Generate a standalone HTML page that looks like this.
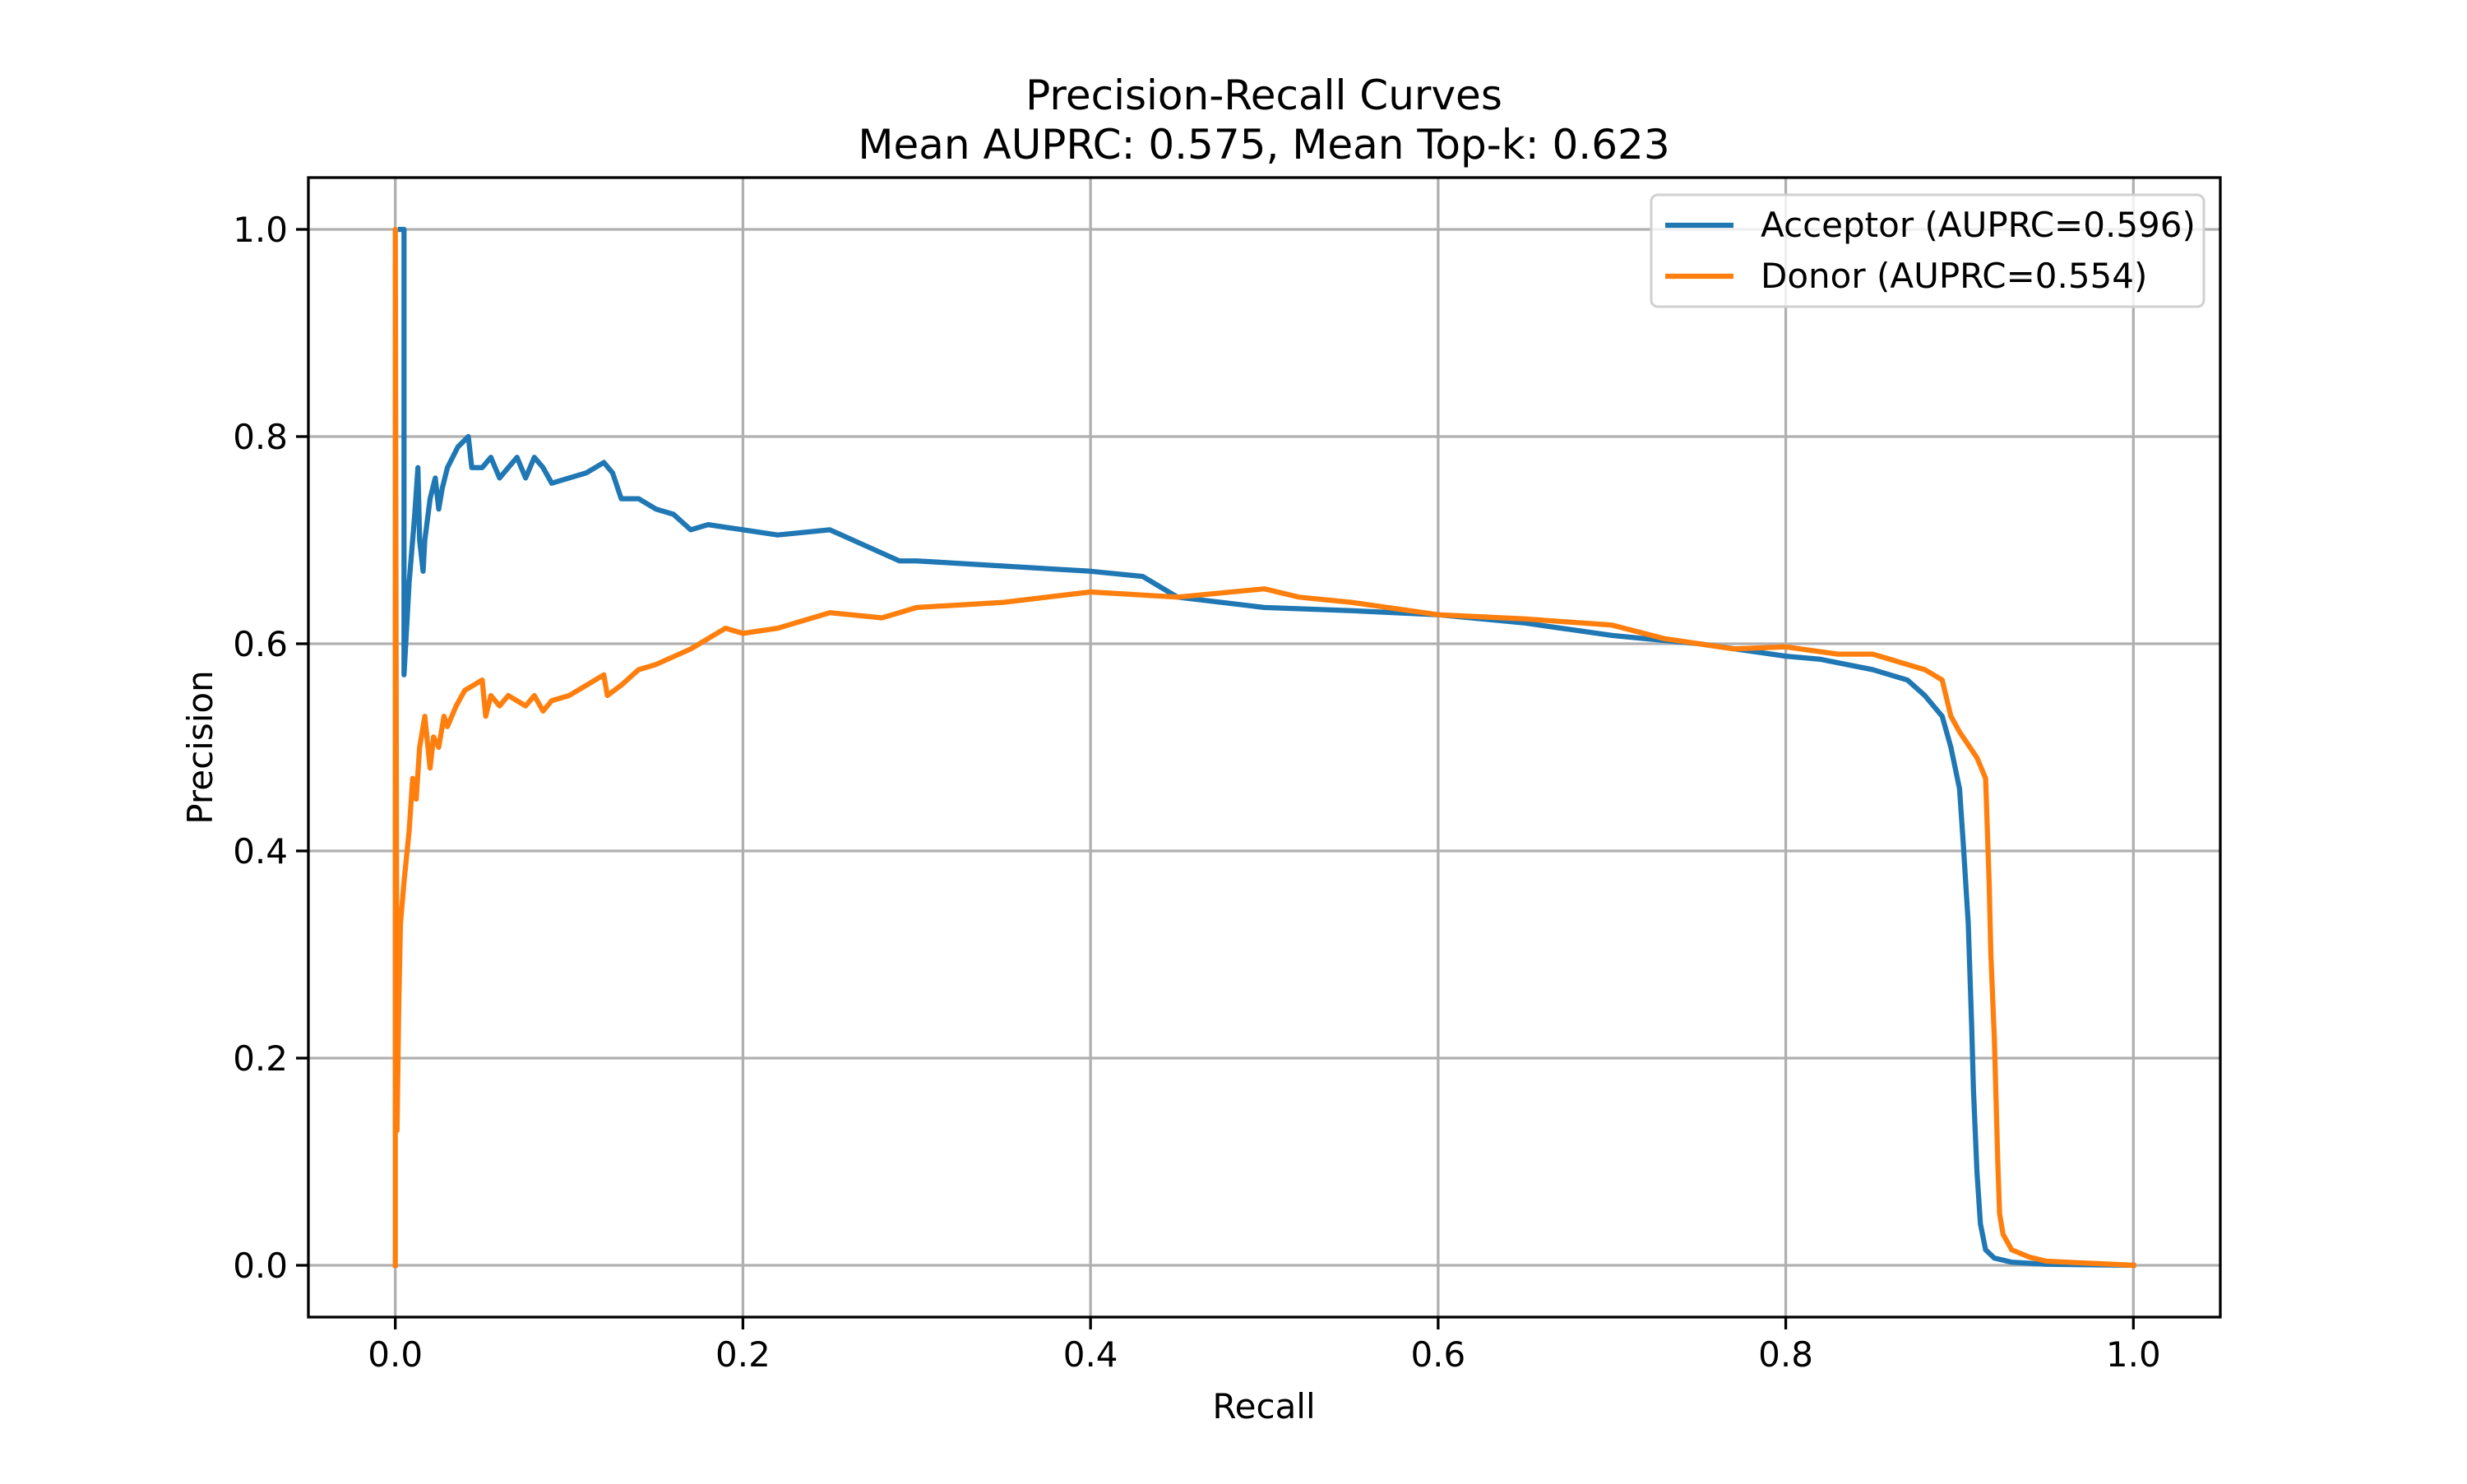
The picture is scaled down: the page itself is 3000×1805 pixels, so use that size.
<!DOCTYPE html>
<html><head><meta charset="utf-8"><style>
html,body{margin:0;padding:0;background:#fff;}
svg text{font-family:"DejaVu Sans","Liberation Sans",sans-serif;fill:#000;}
</style></head><body>
<svg id="chart" width="3000" height="1800" viewBox="0 0 3000 1800" xmlns="http://www.w3.org/2000/svg">
<rect width="3000" height="1800" fill="#fff"/>
<text x="1537" y="133" font-size="50" text-anchor="middle">Precision-Recall Curves</text>
<text x="1537" y="193" font-size="50" text-anchor="middle">Mean AUPRC: 0.575, Mean Top-k: 0.623</text>
<g id="grid"></g>
<g id="series"></g>
<rect x="375" y="216" width="2325" height="1386" fill="none" stroke="#000" stroke-width="3.3"/>
<g id="ticks"></g>
<text x="1537" y="1725" font-size="42" text-anchor="middle">Recall</text>
<text x="258" y="909" font-size="42" text-anchor="middle" transform="rotate(-90 258 909)">Precision</text>
<g>
<rect x="2008" y="237" width="672" height="136" rx="8" fill="#fff" fill-opacity="0.8" stroke="#d0d0d0" stroke-width="3"/>
<g>
<line x1="2025" y1="274" x2="2108" y2="274" stroke="#1f77b4" stroke-width="6.25"/>
<text x="2141" y="288" font-size="42">Acceptor (AUPRC=0.596)</text>
</g>
<g>
<line x1="2025" y1="336" x2="2108" y2="336" stroke="#ff7f0e" stroke-width="6.25"/>
<text x="2141" y="350" font-size="42">Donor (AUPRC=0.554)</text>
</g>
</g>
</svg>
<script>
const xTicks=[0,0.2,0.4,0.6,0.8,1.0];
const yTicks=[0,0.2,0.4,0.6,0.8,1.0];
const xTickLabels=["0.0","0.2","0.4","0.6","0.8","1.0"];
const yTickLabels=["0.0","0.2","0.4","0.6","0.8","1.0"];
const acceptorRecall=[0.003,0.005,0.005,0.008,0.011,0.013,0.014,0.016,0.017,0.02,0.023,0.025,0.027,0.03,0.036,0.042,0.044,0.05,0.055,0.06,0.065,0.07,0.075,0.08,0.085,0.09,0.1,0.11,0.12,0.125,0.13,0.14,0.15,0.16,0.17,0.18,0.2,0.22,0.25,0.27,0.29,0.3,0.35,0.4,0.43,0.45,0.5,0.55,0.6,0.65,0.7,0.75,0.8,0.82,0.85,0.87,0.88,0.89,0.895,0.9,0.902,0.905,0.907,0.908,0.91,0.912,0.915,0.92,0.93,0.95,1.0];
const acceptorPrecision=[1.0,1.0,0.57,0.66,0.72,0.77,0.7,0.67,0.7,0.74,0.76,0.73,0.75,0.77,0.79,0.80,0.77,0.77,0.78,0.76,0.77,0.78,0.76,0.78,0.77,0.755,0.76,0.765,0.775,0.765,0.74,0.74,0.73,0.725,0.71,0.715,0.71,0.705,0.71,0.695,0.68,0.68,0.675,0.67,0.665,0.645,0.635,0.632,0.628,0.62,0.608,0.6,0.588,0.585,0.575,0.565,0.55,0.53,0.5,0.46,0.41,0.33,0.23,0.17,0.09,0.04,0.015,0.007,0.003,0.001,0.0];
const donorRecall=[0.0,0.0,0.001,0.002,0.003,0.005,0.008,0.01,0.012,0.014,0.017,0.02,0.022,0.025,0.028,0.03,0.035,0.04,0.045,0.05,0.052,0.055,0.06,0.065,0.07,0.075,0.08,0.085,0.09,0.1,0.11,0.12,0.122,0.13,0.14,0.15,0.17,0.19,0.2,0.22,0.25,0.28,0.3,0.35,0.4,0.45,0.5,0.52,0.55,0.6,0.65,0.7,0.73,0.77,0.8,0.83,0.85,0.87,0.88,0.89,0.895,0.9,0.91,0.915,0.917,0.918,0.92,0.922,0.923,0.925,0.93,0.94,0.95,1.0];
const donorPrecision=[0.0,1.0,0.13,0.25,0.33,0.37,0.42,0.47,0.45,0.5,0.53,0.48,0.51,0.5,0.53,0.52,0.54,0.555,0.56,0.565,0.53,0.55,0.54,0.55,0.545,0.54,0.55,0.535,0.545,0.55,0.56,0.57,0.55,0.56,0.575,0.58,0.595,0.615,0.61,0.615,0.63,0.625,0.635,0.64,0.65,0.645,0.653,0.645,0.64,0.628,0.624,0.618,0.605,0.595,0.597,0.59,0.59,0.58,0.575,0.565,0.53,0.515,0.49,0.47,0.37,0.3,0.22,0.1,0.05,0.03,0.015,0.008,0.004,0.0];
const NS="http://www.w3.org/2000/svg";
function xs(v){return 480.7+v*2113.6;}
function ys(v){return 1539-v*1260;}
const grid=document.getElementById('grid'),ticks=document.getElementById('ticks'),series=document.getElementById('series');
function mk(tag,attrs,parent){const e=document.createElementNS(NS,tag);for(const k in attrs)e.setAttribute(k,attrs[k]);parent.appendChild(e);return e;}
xTicks.forEach((t,i)=>{
  const g=mk('line',{x1:xs(t),x2:xs(t),y1:216,y2:1602,stroke:'#b0b0b0','stroke-width':3.3},grid);
  
  
  const tk=mk('line',{x1:xs(t),x2:xs(t),y1:1602,y2:1617,stroke:'#000','stroke-width':3.3},ticks);
  
  
  const lb=mk('text',{x:xs(t),y:1662,'font-size':42,'text-anchor':'middle'},ticks);
  lb.textContent=xTickLabels[i];
  
  
});
yTicks.forEach((t,i)=>{
  const g=mk('line',{x1:375,x2:2700,y1:ys(t),y2:ys(t),stroke:'#b0b0b0','stroke-width':3.3},grid);
  
  
  const tk=mk('line',{x1:360,x2:375,y1:ys(t),y2:ys(t),stroke:'#000','stroke-width':3.3},ticks);
  
  
  const lb=mk('text',{x:350,y:ys(t)+15,'font-size':42,'text-anchor':'end'},ticks);
  lb.textContent=yTickLabels[i];
  
  
});
function line(rx,py,color,name){
  const d=rx.map((r,i)=>(i?'L':'M')+xs(r).toFixed(1)+' '+ys(py[i]).toFixed(1)).join(' ');
  const p=mk('path',{d:d,fill:'none',stroke:color,'stroke-width':6.25,'stroke-linejoin':'round','stroke-linecap':'square'},series);
  
  
}
line(acceptorRecall,acceptorPrecision,'#1f77b4','acceptor-curve');
line(donorRecall,donorPrecision,'#ff7f0e','donor-curve');
</script>
</body></html>
